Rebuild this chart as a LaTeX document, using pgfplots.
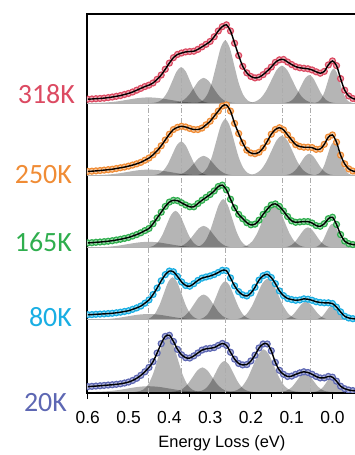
\documentclass[border=0pt]{standalone}
\usepackage{pgfplots}
\usepackage{pgfplotstable}
\pgfplotsset{compat=1.18}
\usepackage{fontspec}
\setmainfont{Carlito}
\newfontfamily\arialf{Liberation Sans}

\definecolor{cA}{HTML}{DC4A62}% 318K
\definecolor{cB}{HTML}{F08C35}% 250K
\definecolor{cC}{HTML}{2FAE4E}% 165K
\definecolor{cD}{HTML}{19AEE3}% 80K
\definecolor{cE}{HTML}{5D67B3}% 20K

% RIXS spectra, intensity relative to each panel's baseline
\pgfplotstableread{
x y
0.60 0.055
0.59 0.058
0.58 0.062
0.57 0.065
0.56 0.070
0.55 0.077
0.54 0.085
0.53 0.095
0.52 0.105
0.51 0.120
0.50 0.135
0.49 0.155
0.48 0.180
0.47 0.205
0.46 0.230
0.45 0.250
0.44 0.280
0.43 0.330
0.42 0.390
0.41 0.470
0.40 0.555
0.39 0.630
0.38 0.675
0.37 0.695
0.36 0.710
0.35 0.715
0.34 0.720
0.33 0.745
0.32 0.780
0.31 0.815
0.30 0.855
0.29 0.920
0.28 1.000
0.27 1.060
0.26 1.085
0.25 1.000
0.24 0.830
0.23 0.660
0.22 0.510
0.21 0.420
0.20 0.370
0.19 0.350
0.18 0.360
0.17 0.395
0.16 0.445
0.15 0.500
0.14 0.565
0.13 0.600
0.12 0.605
0.11 0.570
0.10 0.535
0.09 0.505
0.08 0.490
0.07 0.483
0.06 0.476
0.05 0.460
0.04 0.435
0.03 0.415
0.02 0.440
0.01 0.530
0.00 0.585
-0.01 0.520
-0.02 0.340
-0.03 0.180
-0.04 0.100
-0.05 0.065
-0.06 0.050
}\tK

\pgfplotstableread{
x y
0.60 0.055
0.59 0.058
0.58 0.062
0.57 0.067
0.56 0.073
0.55 0.079
0.54 0.085
0.53 0.095
0.52 0.105
0.51 0.115
0.50 0.128
0.49 0.143
0.48 0.160
0.47 0.180
0.46 0.210
0.45 0.240
0.44 0.285
0.43 0.340
0.42 0.410
0.41 0.490
0.40 0.570
0.39 0.635
0.38 0.665
0.37 0.680
0.36 0.670
0.35 0.650
0.34 0.635
0.33 0.635
0.32 0.655
0.31 0.700
0.30 0.750
0.29 0.820
0.28 0.890
0.27 0.960
0.26 0.975
0.25 0.890
0.24 0.720
0.23 0.580
0.22 0.450
0.21 0.350
0.20 0.310
0.19 0.300
0.18 0.320
0.17 0.380
0.16 0.470
0.15 0.570
0.14 0.635
0.13 0.660
0.12 0.630
0.11 0.560
0.10 0.490
0.09 0.425
0.08 0.400
0.07 0.390
0.06 0.390
0.05 0.385
0.04 0.360
0.03 0.365
0.02 0.430
0.01 0.530
0.00 0.560
-0.01 0.460
-0.02 0.280
-0.03 0.160
-0.04 0.090
-0.05 0.060
-0.06 0.050
}\tL

\pgfplotstableread{
x y
0.60 0.065
0.59 0.068
0.58 0.073
0.57 0.077
0.56 0.082
0.55 0.088
0.54 0.095
0.53 0.105
0.52 0.115
0.51 0.127
0.50 0.140
0.49 0.160
0.48 0.180
0.47 0.205
0.46 0.235
0.45 0.265
0.44 0.330
0.43 0.410
0.42 0.490
0.41 0.570
0.40 0.630
0.39 0.655
0.38 0.650
0.37 0.620
0.36 0.590
0.35 0.565
0.34 0.565
0.33 0.610
0.32 0.655
0.31 0.695
0.30 0.735
0.29 0.785
0.28 0.845
0.27 0.865
0.26 0.800
0.25 0.670
0.24 0.550
0.23 0.460
0.22 0.400
0.21 0.345
0.20 0.315
0.19 0.325
0.18 0.380
0.17 0.460
0.16 0.530
0.15 0.590
0.14 0.605
0.13 0.570
0.12 0.505
0.11 0.430
0.10 0.370
0.09 0.350
0.08 0.355
0.07 0.360
0.06 0.360
0.05 0.340
0.04 0.305
0.03 0.295
0.02 0.330
0.01 0.400
0.00 0.420
-0.01 0.320
-0.02 0.180
-0.03 0.090
-0.04 0.055
-0.05 0.042
-0.06 0.038
}\tM

\pgfplotstableread{
x y
0.60 0.070
0.59 0.072
0.58 0.076
0.57 0.079
0.56 0.082
0.55 0.086
0.54 0.090
0.53 0.097
0.52 0.105
0.51 0.115
0.50 0.125
0.49 0.145
0.48 0.165
0.47 0.190
0.46 0.230
0.45 0.275
0.44 0.350
0.43 0.440
0.42 0.540
0.41 0.625
0.40 0.675
0.39 0.665
0.38 0.600
0.37 0.525
0.36 0.475
0.35 0.465
0.34 0.500
0.33 0.545
0.32 0.577
0.31 0.593
0.30 0.607
0.29 0.627
0.28 0.655
0.27 0.685
0.26 0.680
0.25 0.580
0.24 0.470
0.23 0.390
0.22 0.345
0.21 0.330
0.20 0.370
0.19 0.450
0.18 0.550
0.17 0.610
0.16 0.630
0.15 0.585
0.14 0.500
0.13 0.400
0.12 0.335
0.11 0.295
0.10 0.280
0.09 0.270
0.08 0.275
0.07 0.290
0.06 0.285
0.05 0.270
0.04 0.250
0.03 0.240
0.02 0.235
0.01 0.235
0.00 0.225
-0.01 0.175
-0.02 0.110
-0.03 0.050
-0.04 0.025
-0.05 0.015
-0.06 0.012
}\tN

\pgfplotstableread{
x y
0.60 0.074
0.59 0.078
0.58 0.082
0.57 0.086
0.56 0.091
0.55 0.096
0.54 0.100
0.53 0.106
0.52 0.113
0.51 0.124
0.50 0.138
0.49 0.160
0.48 0.190
0.47 0.230
0.46 0.280
0.45 0.340
0.44 0.420
0.43 0.540
0.42 0.670
0.41 0.770
0.40 0.785
0.39 0.700
0.38 0.590
0.37 0.515
0.36 0.475
0.35 0.470
0.34 0.500
0.33 0.540
0.32 0.580
0.31 0.598
0.30 0.605
0.29 0.615
0.28 0.645
0.27 0.672
0.26 0.645
0.25 0.550
0.24 0.455
0.23 0.395
0.22 0.375
0.21 0.380
0.20 0.430
0.19 0.510
0.18 0.610
0.17 0.665
0.16 0.665
0.15 0.570
0.14 0.410
0.13 0.300
0.12 0.245
0.11 0.215
0.10 0.220
0.09 0.245
0.08 0.265
0.07 0.280
0.06 0.270
0.05 0.245
0.04 0.215
0.03 0.195
0.02 0.195
0.01 0.215
0.00 0.205
-0.01 0.150
-0.02 0.080
-0.03 0.045
-0.04 0.027
-0.05 0.019
-0.06 0.016
}\tO

\pgfplotsset{
  peak/.style={draw=none, fill=black, fill opacity=0.29, smooth, forget plot},
  off/.style={y filter/.expression={y+#1}},
  guide/.style={gray!65, line width=0.6bp, dash pattern=on 5bp off 2bp on 1bp off 2bp, forget plot},
  base/.style={gray!60, line width=1.2bp, forget plot},
  pts/.style={only marks, mark=*, mark size=3bp,
    mark options={draw=#1, fill=#1!45!white, line width=1.2bp}, forget plot},
  fit/.style={black, line width=1.4bp, smooth, no marks, forget plot},
}

\begin{document}
\begin{tikzpicture}
\useasboundingbox (0,0) rectangle (355bp,455bp);
\begin{axis}[
  at={(87bp,62bp)}, anchor=south west,
  scale only axis, width=269.9bp, height=379bp,
  x dir=reverse, xmin=-0.06, xmax=0.602, ymin=-0.014, ymax=5.235,
  clip marker paths=true,
  xtick={0,0.1,0.2,0.3,0.4,0.5,0.6},
  xticklabels={0.0,0.1,0.2,0.3,0.4,0.5,0.6},
  minor x tick num=1, xtick pos=bottom, tick align=outside,
  major tick length=6bp, minor tick length=3.5bp,
  ytick=\empty,
  axis line style={line width=1.3bp},
  every tick/.style={black, line width=1bp},
  ticklabel style={font=\arialf\fontsize{17.5}{19}\selectfont, yshift=-9bp},
  xlabel={Energy Loss (eV)},
  xlabel style={font=\arialf\fontsize{16.5}{18}\selectfont, yshift=-5bp},
]

% ---- fitted components, 318K ----
\addplot[peak, off=4] coordinates {(0.276,0) (0.301,0.001) (0.326,0.004) (0.351,0.011) (0.376,0.026) (0.401,0.049) (0.426,0.071) (0.451,0.08) (0.476,0.071) (0.501,0.049) (0.526,0.026) (0.551,0.011) (0.576,0.004) (0.601,0.001) (0.626,0)};
\addplot[peak, off=4] coordinates {(0.294,0) (0.305,0.006) (0.316,0.022) (0.327,0.068) (0.338,0.162) (0.349,0.303) (0.360,0.441) (0.371,0.50) (0.382,0.441) (0.393,0.303) (0.404,0.162) (0.415,0.068) (0.426,0.022) (0.437,0.006) (0.448,0)};
\addplot[peak, off=4] coordinates {(0.232,0) (0.244,0.004) (0.256,0.015) (0.268,0.047) (0.280,0.114) (0.292,0.212) (0.304,0.309) (0.316,0.35) (0.328,0.309) (0.340,0.212) (0.352,0.114) (0.364,0.047) (0.376,0.015) (0.388,0.004) (0.400,0)};
\addplot[peak, off=4] coordinates {(0.186,0) (0.197,0.010) (0.208,0.038) (0.219,0.118) (0.230,0.282) (0.241,0.528) (0.252,0.768) (0.263,0.87) (0.274,0.768) (0.285,0.528) (0.296,0.282) (0.307,0.118) (0.318,0.038) (0.329,0.010) (0.340,0)};
\addplot[peak, off=4] coordinates {(0.033,0) (0.046,0.006) (0.059,0.023) (0.072,0.070) (0.085,0.169) (0.098,0.315) (0.111,0.459) (0.124,0.52) (0.137,0.459) (0.150,0.315) (0.163,0.169) (0.176,0.070) (0.189,0.023) (0.202,0.006) (0.215,0)};
\addplot[peak, off=4] coordinates {(-0.013,0) (-0.003,0.004) (0.007,0.017) (0.017,0.053) (0.027,0.127) (0.037,0.237) (0.047,0.344) (0.057,0.39) (0.067,0.344) (0.077,0.237) (0.087,0.127) (0.097,0.053) (0.107,0.017) (0.117,0.004) (0.127,0)};
\addplot[peak, off=4] coordinates {(-0.0555,0) (-0.048,0.005) (-0.0405,0.021) (-0.033,0.065) (-0.0255,0.156) (-0.018,0.291) (-0.0105,0.424) (-0.003,0.48) (0.0045,0.424) (0.012,0.291) (0.0195,0.156) (0.027,0.065) (0.0345,0.021) (0.042,0.005) (0.0495,0)};

% ---- fitted components, 250K ----
\addplot[peak, off=3] coordinates {(0.276,0) (0.301,0.001) (0.326,0.004) (0.351,0.011) (0.376,0.026) (0.401,0.049) (0.426,0.071) (0.451,0.08) (0.476,0.071) (0.501,0.049) (0.526,0.026) (0.551,0.011) (0.576,0.004) (0.601,0.001) (0.626,0)};
\addplot[peak, off=3] coordinates {(0.294,0) (0.305,0.005) (0.316,0.021) (0.327,0.064) (0.338,0.153) (0.349,0.285) (0.360,0.415) (0.371,0.47) (0.382,0.415) (0.393,0.285) (0.404,0.153) (0.415,0.064) (0.426,0.021) (0.437,0.005) (0.448,0)};
\addplot[peak, off=3] coordinates {(0.232,0) (0.244,0.003) (0.256,0.012) (0.268,0.037) (0.280,0.088) (0.292,0.164) (0.304,0.238) (0.316,0.27) (0.328,0.238) (0.340,0.164) (0.352,0.088) (0.364,0.037) (0.376,0.012) (0.388,0.003) (0.400,0)};
\addplot[peak, off=3] coordinates {(0.186,0) (0.197,0.009) (0.208,0.034) (0.219,0.106) (0.230,0.253) (0.241,0.473) (0.252,0.688) (0.263,0.78) (0.274,0.688) (0.285,0.473) (0.296,0.253) (0.307,0.106) (0.318,0.034) (0.329,0.009) (0.340,0)};
\addplot[peak, off=3] coordinates {(0.033,0) (0.046,0.006) (0.059,0.024) (0.072,0.074) (0.085,0.179) (0.098,0.334) (0.111,0.485) (0.124,0.55) (0.137,0.485) (0.150,0.334) (0.163,0.179) (0.176,0.074) (0.189,0.024) (0.202,0.006) (0.215,0)};
\addplot[peak, off=3] coordinates {(-0.013,0) (-0.003,0.003) (0.007,0.013) (0.017,0.041) (0.027,0.097) (0.037,0.182) (0.047,0.265) (0.057,0.30) (0.067,0.265) (0.077,0.182) (0.087,0.097) (0.097,0.041) (0.107,0.013) (0.117,0.003) (0.127,0)};
\addplot[peak, off=3] coordinates {(-0.0555,0) (-0.048,0.005) (-0.0405,0.020) (-0.033,0.062) (-0.0255,0.149) (-0.018,0.279) (-0.0105,0.406) (-0.003,0.46) (0.0045,0.406) (0.012,0.279) (0.0195,0.149) (0.027,0.062) (0.0345,0.020) (0.042,0.005) (0.0495,0)};

% ---- fitted components, 165K ----
\addplot[peak, off=2] coordinates {(0.276,0) (0.301,0.001) (0.326,0.004) (0.351,0.011) (0.376,0.026) (0.401,0.049) (0.426,0.071) (0.451,0.08) (0.476,0.071) (0.501,0.049) (0.526,0.026) (0.551,0.011) (0.576,0.004) (0.601,0.001) (0.626,0)};
\addplot[peak, off=2] coordinates {(0.308,0) (0.319,0.006) (0.330,0.022) (0.341,0.069) (0.352,0.166) (0.363,0.309) (0.374,0.450) (0.385,0.51) (0.396,0.450) (0.407,0.309) (0.418,0.166) (0.429,0.069) (0.440,0.022) (0.451,0.006) (0.462,0)};
\addplot[peak, off=2] coordinates {(0.232,0) (0.244,0.003) (0.256,0.013) (0.268,0.041) (0.280,0.097) (0.292,0.182) (0.304,0.265) (0.316,0.30) (0.328,0.265) (0.340,0.182) (0.352,0.097) (0.364,0.041) (0.376,0.013) (0.388,0.003) (0.400,0)};
\addplot[peak, off=2] coordinates {(0.191,0) (0.202,0.007) (0.213,0.029) (0.224,0.091) (0.235,0.218) (0.246,0.406) (0.257,0.591) (0.268,0.67) (0.279,0.591) (0.290,0.406) (0.301,0.218) (0.312,0.091) (0.323,0.029) (0.334,0.007) (0.345,0)};
\addplot[peak, off=2] coordinates {(0.054,0) (0.067,0.007) (0.080,0.028) (0.093,0.085) (0.106,0.205) (0.119,0.382) (0.132,0.556) (0.145,0.63) (0.158,0.556) (0.171,0.382) (0.184,0.205) (0.197,0.085) (0.210,0.028) (0.223,0.007) (0.236,0)};
\addplot[peak, off=2] coordinates {(-0.010,0) (0.000,0.003) (0.010,0.012) (0.020,0.038) (0.030,0.091) (0.040,0.170) (0.050,0.247) (0.060,0.28) (0.070,0.247) (0.080,0.170) (0.090,0.091) (0.100,0.038) (0.110,0.012) (0.120,0.003) (0.130,0)};
\addplot[peak, off=2] coordinates {(-0.0525,0) (-0.045,0.004) (-0.0375,0.014) (-0.030,0.045) (-0.0225,0.107) (-0.015,0.200) (-0.0075,0.291) (0,0.33) (0.0075,0.291) (0.015,0.200) (0.0225,0.107) (0.030,0.045) (0.0375,0.014) (0.045,0.004) (0.0525,0)};

% ---- fitted components, 80K ----
\addplot[peak, off=1] coordinates {(0.276,0) (0.301,0.001) (0.326,0.004) (0.351,0.011) (0.376,0.026) (0.401,0.049) (0.426,0.071) (0.451,0.08) (0.476,0.071) (0.501,0.049) (0.526,0.026) (0.551,0.011) (0.576,0.004) (0.601,0.001) (0.626,0)};
\addplot[peak, off=1] coordinates {(0.315,0) (0.326,0.007) (0.337,0.026) (0.348,0.080) (0.359,0.192) (0.370,0.358) (0.381,0.521) (0.392,0.59) (0.403,0.521) (0.414,0.358) (0.425,0.192) (0.436,0.080) (0.447,0.026) (0.458,0.007) (0.469,0)};
\addplot[peak, off=1] coordinates {(0.232,0) (0.244,0.004) (0.256,0.015) (0.268,0.047) (0.280,0.114) (0.292,0.212) (0.304,0.309) (0.316,0.35) (0.328,0.309) (0.340,0.212) (0.352,0.114) (0.364,0.047) (0.376,0.015) (0.388,0.004) (0.400,0)};
\addplot[peak, off=1] coordinates {(0.186,0) (0.197,0.006) (0.208,0.023) (0.219,0.072) (0.230,0.174) (0.241,0.324) (0.252,0.472) (0.263,0.535) (0.274,0.472) (0.285,0.324) (0.296,0.174) (0.307,0.072) (0.318,0.023) (0.329,0.006) (0.340,0)};
\addplot[peak, off=1] coordinates {(0.068,0) (0.081,0.006) (0.094,0.025) (0.107,0.077) (0.120,0.185) (0.133,0.346) (0.146,0.503) (0.159,0.57) (0.172,0.503) (0.185,0.346) (0.198,0.185) (0.211,0.077) (0.224,0.025) (0.237,0.006) (0.250,0)};
\addplot[peak, off=1] coordinates {(-0.005,0) (0.005,0.003) (0.015,0.011) (0.025,0.034) (0.035,0.081) (0.045,0.152) (0.055,0.221) (0.065,0.25) (0.075,0.221) (0.085,0.152) (0.095,0.081) (0.105,0.034) (0.115,0.011) (0.125,0.003) (0.135,0)};
\addplot[peak, off=1] coordinates {(-0.0525,0) (-0.045,0.002) (-0.0375,0.009) (-0.030,0.027) (-0.0225,0.065) (-0.015,0.121) (-0.0075,0.177) (0,0.20) (0.0075,0.177) (0.015,0.121) (0.0225,0.065) (0.030,0.027) (0.0375,0.009) (0.045,0.002) (0.0525,0)};

% ---- fitted components, 20K ----
\addplot[peak, off=0] coordinates {(0.276,0) (0.301,0.001) (0.326,0.004) (0.351,0.011) (0.376,0.026) (0.401,0.049) (0.426,0.071) (0.451,0.08) (0.476,0.071) (0.501,0.049) (0.526,0.026) (0.551,0.011) (0.576,0.004) (0.601,0.001) (0.626,0)};
\addplot[peak, off=0] coordinates {(0.320,0) (0.332,0.009) (0.344,0.034) (0.356,0.104) (0.368,0.250) (0.380,0.467) (0.392,0.680) (0.404,0.77) (0.416,0.680) (0.428,0.467) (0.440,0.250) (0.452,0.104) (0.464,0.034) (0.476,0.009) (0.488,0)};
\addplot[peak, off=0] coordinates {(0.235,0) (0.247,0.004) (0.259,0.015) (0.271,0.046) (0.283,0.110) (0.295,0.206) (0.307,0.300) (0.319,0.34) (0.331,0.300) (0.343,0.206) (0.355,0.110) (0.367,0.046) (0.379,0.015) (0.391,0.004) (0.403,0)};
\addplot[peak, off=0] coordinates {(0.188,0) (0.199,0.005) (0.210,0.019) (0.221,0.058) (0.232,0.140) (0.243,0.261) (0.254,0.379) (0.265,0.43) (0.276,0.379) (0.287,0.261) (0.298,0.140) (0.309,0.058) (0.320,0.019) (0.331,0.005) (0.342,0)};
\addplot[peak, off=0] coordinates {(0.078,0) (0.091,0.007) (0.104,0.026) (0.117,0.080) (0.130,0.192) (0.143,0.358) (0.156,0.521) (0.169,0.59) (0.182,0.521) (0.195,0.358) (0.208,0.192) (0.221,0.080) (0.234,0.026) (0.247,0.007) (0.260,0)};
\addplot[peak, off=0] coordinates {(-0.003,0) (0.007,0.003) (0.017,0.011) (0.027,0.035) (0.037,0.084) (0.047,0.158) (0.057,0.229) (0.067,0.26) (0.077,0.229) (0.087,0.158) (0.097,0.084) (0.107,0.035) (0.117,0.011) (0.127,0.003) (0.137,0)};
\addplot[peak, off=0] coordinates {(-0.0525,0) (-0.045,0.002) (-0.0375,0.010) (-0.030,0.030) (-0.0225,0.071) (-0.015,0.133) (-0.0075,0.194) (0,0.22) (0.0075,0.194) (0.015,0.133) (0.0225,0.071) (0.030,0.030) (0.0375,0.010) (0.045,0.002) (0.0525,0)};

% ---- mode positions ----
\addplot[guide] coordinates {(0.451,-0.014) (0.451,4.07)};
\addplot[guide] coordinates {(0.371,-0.014) (0.371,4.50)};
\addplot[guide] coordinates {(0.263,-0.014) (0.263,4.87)};
\addplot[guide] coordinates {(0.124,-0.014) (0.124,4.52)};
\addplot[guide] coordinates {(0.055,-0.014) (0.055,4.39)};

% ---- panel baselines ----
\addplot[base] coordinates {(-0.06,1) (0.602,1)};
\addplot[base] coordinates {(-0.06,2) (0.602,2)};
\addplot[base] coordinates {(-0.06,3) (0.602,3)};
\addplot[base] coordinates {(-0.06,4) (0.602,4)};

% ---- data and total fit ----
\addplot[pts=cA, off=4] table {\tK};
\addplot[fit, off=4] table {\tK};
\addplot[pts=cB, off=3] table {\tL};
\addplot[fit, off=3] table {\tL};
\addplot[pts=cC, off=2] table {\tM};
\addplot[fit, off=2] table {\tM};
\addplot[pts=cD, off=1] table {\tN};
\addplot[fit, off=1] table {\tN};
\addplot[pts=cE, off=0] table {\tO};
\addplot[fit, off=0] table {\tO};
\end{axis}

% temperature labels
\begin{scope}[every node/.style={anchor=east, inner sep=0pt, font=\fontsize{28}{30}\selectfont}]
\node[text=cA] at (75bp,361bp) {318K};
\node[text=cB] at (72bp,280bp) {250K};
\node[text=cC] at (72bp,213bp) {165K};
\node[text=cD] at (72bp,138bp) {80K};
\node[text=cE] at (67bp,52bp) {20K};
\end{scope}
\end{tikzpicture}
\end{document}
